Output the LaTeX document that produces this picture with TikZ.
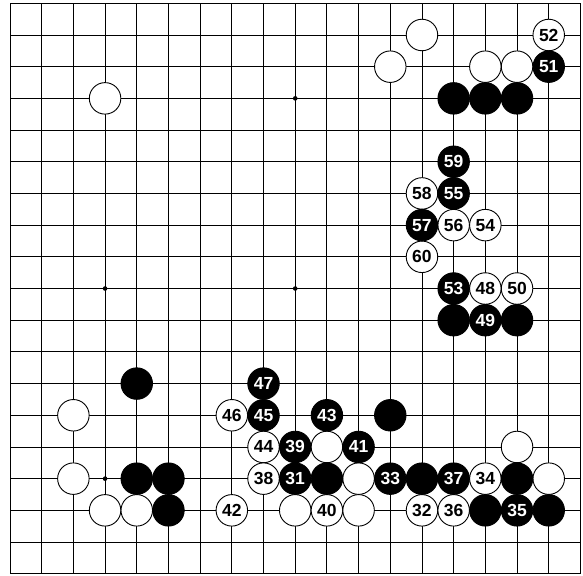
\documentclass[tikz,border=0pt]{standalone}
\usepackage{fontspec}
\setmainfont{Liberation Sans}
\begin{document}
\begin{tikzpicture}[x=1pt,y=-1pt,
  gridline/.style={black,line width=0.9pt},
  stone/.style={circle,minimum size=31.5pt,inner sep=0pt,draw=black,line width=0.9pt,
    font=\bfseries\fontsize{17.5}{17}\selectfont},
  wstone/.style={stone,fill=white,text=black},
  bstone/.style={stone,fill=black,text=white},
  hoshi/.style={fill=black}]
\useasboundingbox (0,0) rectangle (583,575);
\fill[white] (0,0) rectangle (583,575);
\def\s{31.69}
\foreach \i in {0,...,18}{
  \draw[gridline] ({10+\i*\s},3.3) -- ({10+\i*\s},573.7);
  \draw[gridline] (10,{3.3+\i*\s}) -- (580.4,{3.3+\i*\s});
}
\foreach \c/\r in {9/3,3/9,9/9,3/15}{
  \fill[hoshi] ({10+\c*\s},{3.3+\r*\s}) circle (2.3);
}
% white stones
\foreach \c/\r/\t in {13/1/,17/1/52,12/2/,15/2/,16/2/,3/3/,
  13/6/58,14/7/56,15/7/54,13/8/60,15/9/48,16/9/50,
  2/13/,2/15/,3/16/,4/16/,
  7/13/46,8/14/44,10/14/,8/15/38,11/15/,7/16/42,9/16/,10/16/40,11/16/,
  16/14/,15/15/34,17/15/,13/16/32,14/16/36}{
  \node[wstone] (w\c-\r) at ({10+\c*\s},{3.3+\r*\s}) {\t};
}
% black stones
\foreach \c/\r/\t in {17/2/51,14/3/,15/3/,16/3/,
  14/5/59,14/6/55,13/7/57,14/9/53,14/10/,15/10/49,16/10/,
  4/12/,4/15/,5/15/,5/16/,
  8/12/47,8/13/45,10/13/43,12/13/,9/14/39,11/14/41,
  9/15/31,10/15/,12/15/33,13/15/,14/15/37,16/15/,
  15/16/,16/16/35,17/16/}{
  \node[bstone] (b\c-\r) at ({10+\c*\s},{3.3+\r*\s}) {\t};
}
\end{tikzpicture}
\end{document}
